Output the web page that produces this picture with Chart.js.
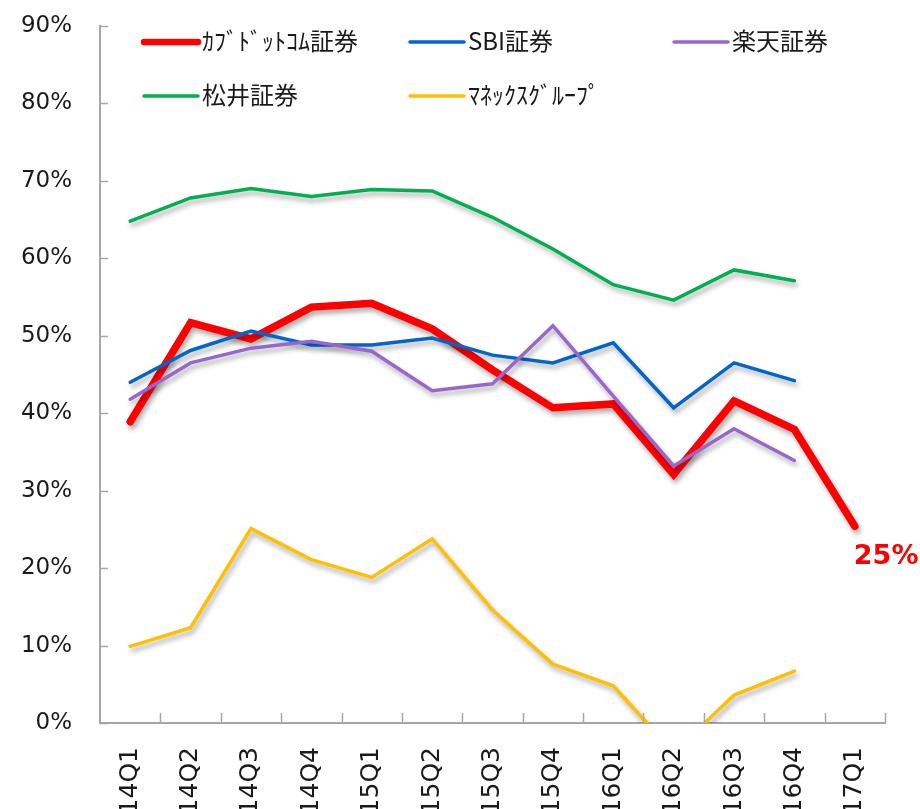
<!DOCTYPE html>
<html>
<head>
<meta charset="utf-8">
<script src="https://cdn.jsdelivr.net/npm/chart.js@4/dist/chart.umd.min.js"></script>
<style>
  html, body { margin: 0; padding: 0; background: #fff; overflow: hidden; }
  #wrap { width: 920px; height: 840px; }
</style>
</head>
<body>
<div id="wrap"><canvas id="myChart" width="920" height="840"></canvas></div>
<script>
const categories = ['14Q1', '14Q2', '14Q3', '14Q4', '15Q1', '15Q2', '15Q3', '15Q4', '16Q1', '16Q2', '16Q3', '16Q4', '17Q1'];
const yTicks = [0, 10, 20, 30, 40, 50, 60, 70, 80, 90];

const kabucom = [38.9, 51.7, 49.6, 53.7, 54.2, 50.9, 45.6, 40.7, 41.2, 32.1, 41.6, 37.9, 25.4];
const sbi = [44.0, 48.1, 50.6, 48.8, 48.8, 49.7, 47.5, 46.5, 49.1, 40.7, 46.5, 44.2, null];
const rakuten = [41.8, 46.5, 48.4, 49.3, 48.0, 42.9, 43.8, 51.3, 42.2, 33.2, 38.0, 33.9, null];
const matsui = [64.8, 67.8, 69.0, 68.0, 68.9, 68.7, 65.3, 61.2, 56.6, 54.6, 58.5, 57.1, null];
const monex = [9.9, 12.3, 25.1, 21.1, 18.8, 23.8, 14.6, 7.6, 4.8, -3.8, 3.6, 6.7, null];

const seriesNames = ['ｶﾌﾞﾄﾞｯﾄｺﾑ証券', 'SBI証券', '楽天証券', '松井証券', 'ﾏﾈｯｸｽｸﾞﾙｰﾌﾟ'];

const axisColor = '#a6a6a6';
const textColor = '#1a1a1a';

function line(label, data, color, width, order) {
    return {
        label: label,
        data: data,
        borderColor: color,
        backgroundColor: color,
        borderWidth: width,
        pointRadius: 0,
        pointHoverRadius: 0,
        tension: 0,
        borderCapStyle: 'round',
        clip: 0,
        order: order
    };
}

const data = {
    labels: categories,
    datasets: [
        line(seriesNames[0], kabucom, '#ff0000', 7.5, 5),
        line(seriesNames[1], sbi, '#0066cc', 3.5, 4),
        line(seriesNames[2], rakuten, '#9966cc', 3.5, 3),
        line(seriesNames[3], matsui, '#00b050', 3.5, 2),
        line(seriesNames[4], monex, '#ffc000', 3.5, 1)
    ]
};

// shadow under lines, inner tick marks, end label and a grid legend
const extras = {
    id: 'extras',
    beforeDatasetsDraw(chart) {
        const c = chart.ctx;
        c.save();
        c.shadowColor = 'rgba(0,0,0,0.32)';
        c.shadowBlur = 5;
        c.shadowOffsetX = 2;
        c.shadowOffsetY = 4;
    },
    afterDatasetsDraw(chart) {
        const c = chart.ctx;
        c.restore();
        const area = chart.chartArea;
        const x = chart.scales.x;
        const y = chart.scales.y;

        // tick marks inside the plot
        c.save();
        c.strokeStyle = axisColor;
        c.lineWidth = 1.5;
        c.beginPath();
        y.ticks.forEach((t, i) => {
            const py = Math.round(y.getPixelForTick(i)) + 0.5;
            c.moveTo(area.left, py);
            c.lineTo(area.left + 8, py);
        });
        const half = (x.getPixelForValue(1) - x.getPixelForValue(0)) / 2;
        categories.forEach((cat, i) => {
            const px = Math.round(x.getPixelForValue(i) + half) + 0.5;
            c.moveTo(px, area.bottom);
            c.lineTo(px, area.bottom - 10);
        });
        c.stroke();
        c.restore();

        // last value label
        const meta = chart.getDatasetMeta(0);
        const last = meta.data[kabucom.length - 1];
        c.save();
        c.fillStyle = '#ff0000';
        c.font = 'bold 27px "DejaVu Sans"';
        c.textAlign = 'left';
        c.textBaseline = 'middle';
        c.fillText(Math.round(kabucom[kabucom.length - 1]) + '%', last.x - 1, last.y + 31);
        c.restore();

        // legend
        const cols = [142, 408, 672];
        const rows = [42, 96];
        c.save();
        c.font = '24px "Noto Sans CJK JP"';
        c.textBaseline = 'middle';
        c.textAlign = 'left';
        chart.data.datasets.forEach((ds, i) => {
            const lx = cols[i % 3];
            const ly = rows[Math.floor(i / 3)];
            c.strokeStyle = ds.borderColor;
            c.lineWidth = i === 0 ? 6.5 : 3.5;
            c.lineCap = 'round';
            c.beginPath();
            c.moveTo(lx + 2, ly);
            c.lineTo(lx + 56, ly);
            c.stroke();
            c.fillStyle = textColor;
            c.fillText(ds.label, lx + 60, ly - 1);
        });
        c.restore();
    }
};

const config = {
    type: 'line',
    data: data,
    options: {
        responsive: false,
        animation: false,
        events: [],
        layout: { padding: { top: 26, right: 35, left: 0, bottom: 0 } },
        plugins: {
            legend: { display: false },
            tooltip: { enabled: false }
        },
        scales: {
            x: {
                offset: true,
                grid: { display: false, drawTicks: false },
                border: { display: true, color: axisColor, width: 2 },
                ticks: {
                    autoSkip: false,
                    minRotation: 90,
                    maxRotation: 90,
                    padding: 24,
                    color: textColor,
                    font: { family: '"DejaVu Sans"', size: 25 }
                },
                afterFit(s) { s.height = 840 - 723; }
            },
            y: {
                min: yTicks[0],
                max: yTicks[yTicks.length - 1],
                grid: { display: false, drawTicks: false },
                border: { display: true, color: axisColor, width: 2 },
                ticks: {
                    stepSize: 10,
                    padding: 28,
                    color: textColor,
                    font: { family: '"DejaVu Sans"', size: 23 },
                    callback: v => v + '%'
                },
                afterFit(s) {
                    s.width = 100;
                    s.paddingTop = 0;
                    s.paddingBottom = 0;
                }
            }
        }
    },
    plugins: [extras]
};

const chart = new Chart(document.getElementById('myChart'), config);
</script>
</body>
</html>
